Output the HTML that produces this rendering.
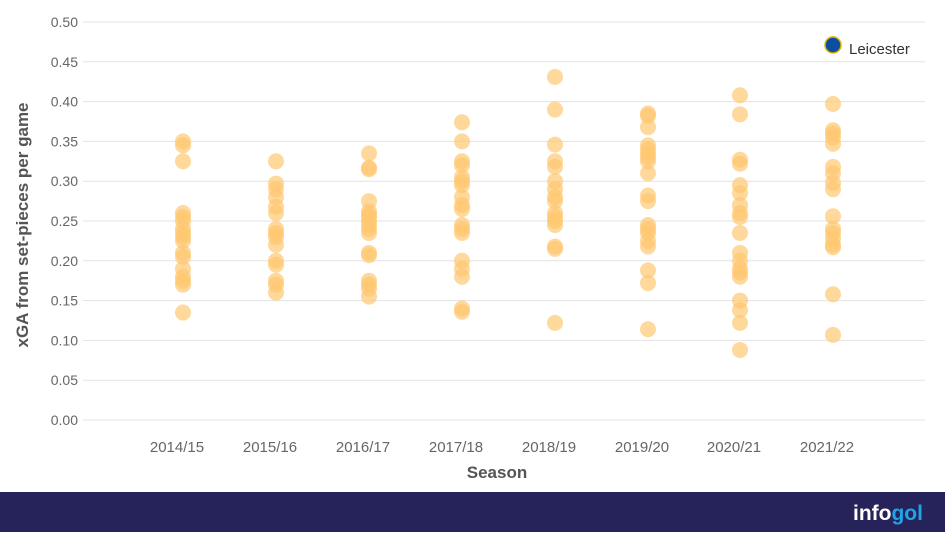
<!DOCTYPE html>
<html><head><meta charset="utf-8"><style>
body{margin:0;width:945px;height:532px;overflow:hidden;background:#fff;font-family:"Liberation Sans",sans-serif}
</style></head><body>
<svg width="945" height="532" xmlns="http://www.w3.org/2000/svg" font-family="Liberation Sans, sans-serif">
<g id="grid" stroke="#e3e3e3" stroke-width="1"></g>
<g id="yl" font-size="14" fill="#666" text-anchor="end"></g>
<g id="xl" font-size="15" fill="#666" text-anchor="middle"></g>
<g id="dots" fill="#ffc870" fill-opacity="0.7"></g>
<text transform="translate(28,225) rotate(-90)" text-anchor="middle" font-size="17" font-weight="bold" fill="#555">xGA from set-pieces per game</text>
<text x="497" y="478" text-anchor="middle" font-size="17" font-weight="bold" fill="#555">Season</text>
<circle cx="833" cy="44" r="8" fill="#ffc870" fill-opacity="0.7"/>
<circle cx="833" cy="45" r="8" fill="#0b4ea2" stroke="#d8b400" stroke-width="1.5"/>
<text x="849" y="54" font-size="15" fill="#333">Leicester</text>
<rect x="0" y="492" width="945" height="40" fill="#26235a"/>
<text x="853" y="520" font-size="21" font-weight="bold" fill="#fff">info<tspan fill="#1ea5e8">gol</tspan></text>
</svg>
<script>
const ns="http://www.w3.org/2000/svg";
const Y=v=>420-v*796;
const g=document.getElementById('grid'),yl=document.getElementById('yl'),xl=document.getElementById('xl'),d=document.getElementById('dots');
for(let i=0;i<=10;i++){const v=i*0.05,y=Y(v);
const l=document.createElementNS(ns,'line');l.setAttribute('x1',83);l.setAttribute('x2',925);l.setAttribute('y1',y);l.setAttribute('y2',y);g.appendChild(l);
const t=document.createElementNS(ns,'text');t.setAttribute('x',78);t.setAttribute('y',y+5);t.textContent=v.toFixed(2);yl.appendChild(t);}
const xs=[183,276,369,462,555,648,740,833],labs=["2014/15","2015/16","2016/17","2017/18","2018/19","2019/20","2020/21","2021/22"];
const data=[
[0.35,0.345,0.325,0.26,0.255,0.25,0.24,0.235,0.23,0.225,0.21,0.205,0.19,0.18,0.175,0.17,0.135],
[0.325,0.297,0.29,0.28,0.268,0.26,0.24,0.235,0.23,0.22,0.2,0.195,0.175,0.17,0.16],
[0.335,0.317,0.315,0.275,0.262,0.258,0.255,0.25,0.245,0.24,0.235,0.21,0.207,0.175,0.17,0.165,0.155],
[0.374,0.35,0.325,0.32,0.305,0.3,0.295,0.28,0.27,0.265,0.245,0.24,0.235,0.2,0.19,0.18,0.14,0.136],
[0.431,0.39,0.346,0.325,0.318,0.3,0.29,0.28,0.275,0.26,0.255,0.25,0.245,0.218,0.215,0.122],
[0.385,0.382,0.368,0.345,0.34,0.335,0.33,0.325,0.31,0.282,0.275,0.245,0.24,0.235,0.225,0.218,0.188,0.172,0.114],
[0.408,0.384,0.327,0.322,0.295,0.285,0.27,0.26,0.255,0.235,0.21,0.2,0.19,0.185,0.18,0.15,0.138,0.122,0.088],
[0.397,0.364,0.36,0.355,0.347,0.318,0.31,0.298,0.29,0.256,0.24,0.235,0.228,0.22,0.217,0.158,0.107]];
xs.forEach((x,i)=>{const t=document.createElementNS(ns,'text');t.setAttribute('x',x-6);t.setAttribute('y',452);t.textContent=labs[i];xl.appendChild(t);
data[i].forEach(v=>{const c=document.createElementNS(ns,'circle');c.setAttribute('cx',x);c.setAttribute('cy',Y(v));c.setAttribute('r',8);d.appendChild(c);});});
</script>
</body></html>
